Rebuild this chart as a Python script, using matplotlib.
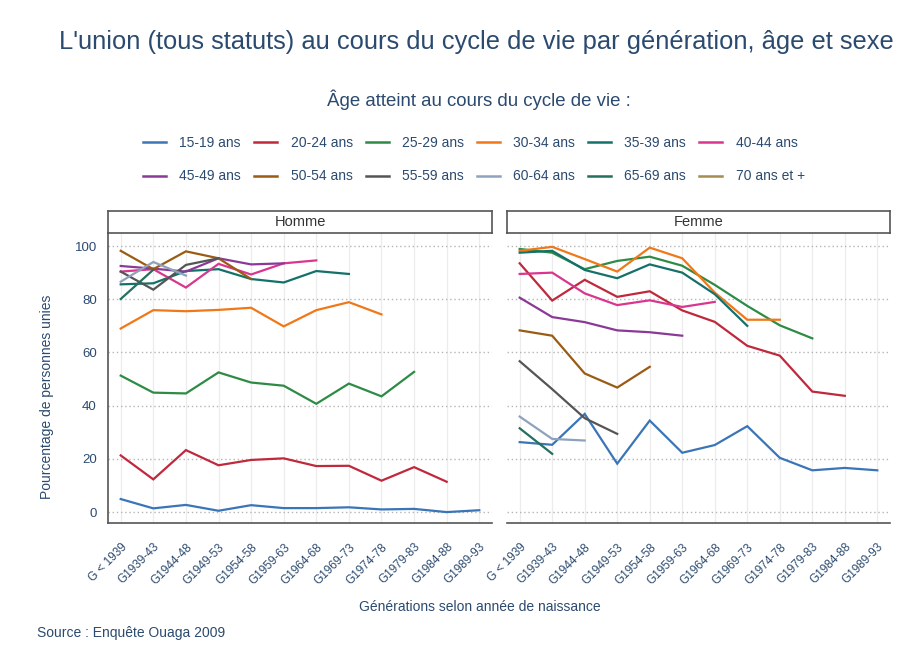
import numpy as np
import matplotlib
matplotlib.use("Agg")
import matplotlib.pyplot as plt
from matplotlib.lines import Line2D

plt.rcParams['font.family'] = ['Liberation Sans', 'DejaVu Sans']

nan = np.nan
generations = ["G < 1939", "G1939-43", "G1944-48", "G1949-53", "G1954-58", "G1959-63",
               "G1964-68", "G1969-73", "G1974-78", "G1979-83", "G1984-88", "G1989-93"]
ages = ["15-19 ans", "20-24 ans", "25-29 ans", "30-34 ans", "35-39 ans", "40-44 ans",
        "45-49 ans", "50-54 ans", "55-59 ans", "60-64 ans", "65-69 ans", "70 ans et +"]
colors = ["#3a75b8", "#c0283c", "#2e8b45", "#f07818", "#14716a", "#d9368f",
          "#8a3a96", "#9a5b13", "#555555", "#8ea2bd", "#23705e", "#a58c4f"]

# Homme
h15 = [4.9, 1.4, 2.7, 0.5, 2.6, 1.5, 1.5, 1.8, 1.0, 1.2, 0.0, 0.7]
h20 = [21.3, 12.3, 23.3, 17.6, 19.6, 20.2, 17.3, 17.4, 11.8, 16.9, 11.4]
h25 = [51.3, 44.9, 44.6, 52.5, 48.7, 47.5, 40.7, 48.3, 43.5, 52.7]
h30 = [69.0, 75.9, 75.5, 76.0, 76.8, 69.8, 75.9, 78.9, 74.3]
h35 = [85.6, 86.0, 90.6, 91.3, 87.6, 86.3, 90.6, 89.5]
h40 = [90.4, 91.3, 84.4, 93.3, 89.3, 93.5, 94.6]
h45 = [92.5, 91.5, 90.4, 95.4, 93.1, 93.5]
h50 = [98.2, 91.3, 98.0, 95.4, 87.6]
h55 = [90.4, 83.6, 92.9, 95.4]
h60 = [86.6, 94.0, 88.9]
h65 = [80.1, 91.1]
h70 = [88.0]

# Femme
f15 = [26.3, 25.3, 36.9, 18.2, 34.4, 22.3, 25.2, 32.3, 20.4, 15.7, 16.6, 15.7]
f20 = [93.5, 79.5, 87.3, 80.9, 83.0, 75.8, 71.5, 62.5, 58.8, 45.3, 43.7]
f25 = [98.9, 97.5, 91.3, 94.4, 96.0, 92.6, 85.4, 77.5, 70.2, 65.3]
f30 = [98.2, 99.7, 95.1, 90.4, 99.4, 95.4, 82.5, 72.3, 72.3]
f35 = [97.5, 98.2, 91.0, 87.9, 93.1, 90.0, 81.9, 70.0]
f40 = [89.5, 90.0, 82.2, 77.8, 79.6, 77.1, 79.0]
f45 = [80.6, 73.3, 71.4, 68.3, 67.6, 66.3]
f50 = [68.3, 66.3, 52.1, 46.8, 54.6]
f55 = [56.7, 46.2, 35.3, 29.4]
f60 = [35.9, 27.5, 26.9]
f65 = [31.5, 21.9]
f70 = [30.0]

homme = [h15, h20, h25, h30, h35, h40, h45, h50, h55, h60, h65, h70]
femme = [f15, f20, f25, f30, f35, f40, f45, f50, f55, f60, f65, f70]

txt = "#2b4a6f"
W, H = 912, 664
fig = plt.figure(figsize=(W / 100, H / 100), dpi=100)

def box(l, r, t, b):
    return [l / W, 1 - b / H, (r - l) / W, (b - t) / H]

panels = [("Homme", homme, 108, 492), ("Femme", femme, 507, 890)]
x = np.arange(len(generations))
for i, (name, data, l, r) in enumerate(panels):
    ax = fig.add_axes(box(l, r, 233, 523))
    for s, c in zip(data, colors):
        ax.plot(x[:len(s)], s, color=c, lw=1.6, solid_joinstyle='miter')
    ax.set_xlim(-0.39, 11.39)
    ax.set_ylim(-4.1, 104.9)
    ax.set_xticks(x)
    ax.set_xticklabels(generations, rotation=45, ha='right', rotation_mode='anchor',
                       fontsize=8.5, color=txt)
    ax.set_yticks([0, 20, 40, 60, 80, 100])
    ax.tick_params(axis='x', length=0, pad=13)
    ax.tick_params(axis='y', length=0, labelsize=9.5, labelcolor=txt, pad=8)
    ax.grid(axis='x', color='#ececec', lw=0.9)
    ax.grid(axis='y', color='#b5b5b5', lw=1.0, linestyle=(0, (1, 2)))
    ax.set_axisbelow(True)
    for sp in ['top', 'right']:
        ax.spines[sp].set_visible(False)
    ax.spines['bottom'].set_color('#555555')
    ax.spines['bottom'].set_linewidth(1.2)
    if i == 0:
        ax.spines['left'].set_color('#555555')
        ax.spines['left'].set_linewidth(1.2)
    else:
        ax.spines['left'].set_visible(False)
        ax.set_yticklabels([])
    sax = fig.add_axes(box(l, r, 211, 233))
    sax.set_xticks([]); sax.set_yticks([])
    for sp in sax.spines.values():
        sp.set_color('#555555'); sp.set_linewidth(1.2)
    sax.text(0.5, 0.5, name, ha='center', va='center', fontsize=10.5, color='#333333',
             transform=sax.transAxes)

fig.text(476 / W, 1 - 42 / H, "L'union (tous statuts) au cours du cycle de vie par génération, âge et sexe",
         ha='center', va='center', fontsize=18.4, color=txt)
fig.text(479 / W, 1 - 100 / H, "Âge atteint au cours du cycle de vie :",
         ha='center', va='center', fontsize=13.4, color=txt)
fig.text(47 / W, 1 - 397 / H, "Pourcentage de personnes unies", rotation=90,
         ha='center', va='center', fontsize=10, color=txt)
fig.text(480 / W, 1 - 607 / H, "Générations selon année de naissance",
         ha='center', va='center', fontsize=10, color=txt)
fig.text(37 / W, 1 - 633 / H, "Source : Enquête Ouaga 2009",
         ha='left', va='center', fontsize=10, color=txt)

handles = [Line2D([], [], color=c, lw=1.8) for c in colors]
order = []
for col in range(6):
    order += [col, col + 6]
leg = fig.legend([handles[k] for k in order], [ages[k] for k in order], ncol=6,
                 loc='center', bbox_to_anchor=(474 / W, 1 - 159.5 / H), frameon=False,
                 fontsize=10, handlelength=1.65, handletextpad=0.95, columnspacing=0.95,
                 labelspacing=1.42, labelcolor=txt)

fig.savefig("out.png", dpi=100)
